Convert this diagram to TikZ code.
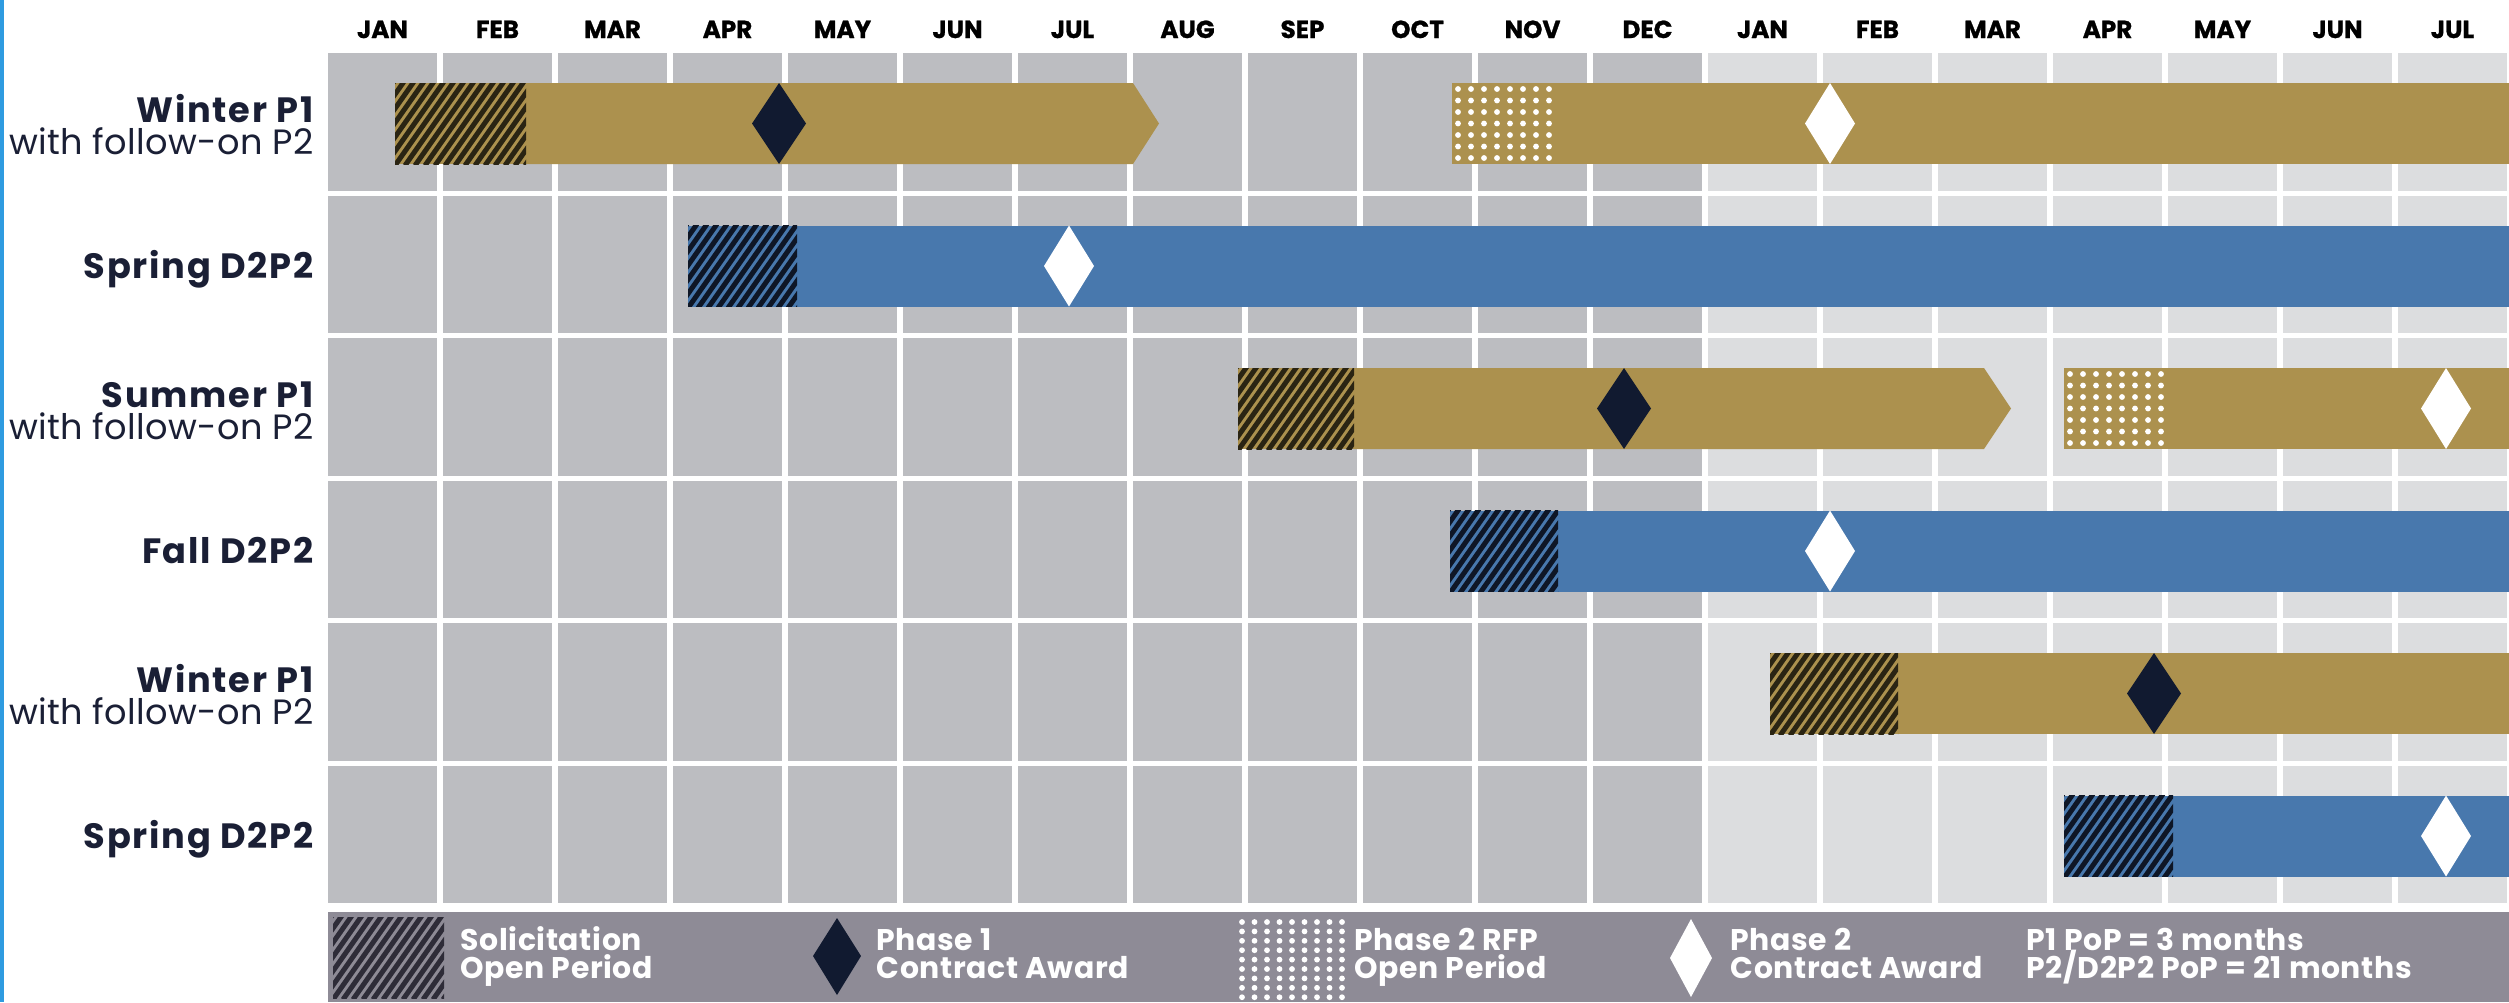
\documentclass[tikz,border=0pt]{standalone}
\usepackage{fontspec}
\setmainfont{Poppins}
\definecolor{cellD}{HTML}{BCBDC1}
\definecolor{cellL}{HTML}{DCDDDF}
\definecolor{gold}{HTML}{AC914E}
\definecolor{barblue}{HTML}{4878AD}
\definecolor{navy}{HTML}{111A30}
\definecolor{legbg}{HTML}{8E8B96}
\definecolor{edgeblue}{HTML}{2E9BE0}
\definecolor{goldstripe}{HTML}{2A2413}
\definecolor{bluestripe}{HTML}{0E1626}
\definecolor{legstripe}{HTML}{2E2C38}
\definecolor{labtext}{HTML}{1A1F35}
\newcommand\hatchbox[5]{%
  \begin{scope}
    \clip (#1,#3-40.5) rectangle (#2,#3+40.5);
    \fill[#4] (#1,#3-40.5) rectangle (#2,#3+40.5);
    \foreach \i in {-10,...,18} \draw[#5, line width=0.05cm] ({#1+\i*10},#3+42) -- ++(59,-84);
  \end{scope}}
\newcommand\dotbox[6]{%
  \foreach \i in {0,...,#3} \foreach \j in {0,...,#4}
    \fill[white] ({#1+\i*#5},{#2+\j*#6}) circle [radius=2.9];}
\newcommand\dia[4]{% cx, cy, halfwidth, color
  \fill[#4] (#1,#2-40.5) -- (#1+#3,#2) -- (#1,#2+40.5) -- (#1-#3,#2) -- cycle;}
\tikzset{
  rowlab/.style={anchor=base east, inner sep=0pt, text=labtext, font=\fontsize{10}{12}\selectfont\bfseries\addfontfeature{LetterSpace=5}},
  rowsub/.style={anchor=base east, inner sep=0pt, text=labtext, font=\fontsize{10}{12}\selectfont\addfontfeature{LetterSpace=1}},
  month/.style={anchor=base, inner sep=0pt, text=black, font=\fontsize{7}{8}\selectfont\bfseries\addfontfeature{FakeBold=1}},
  legtxt/.style={anchor=base west, inner sep=0pt, text=white, font=\fontsize{8.5}{10}\selectfont\bfseries\addfontfeature{LetterSpace=2}},
}
\begin{document}
\begin{tikzpicture}[x=0.01cm,y=-0.01cm]
\useasboundingbox (0,0) rectangle (2509,1002);
\fill[white] (0,0) rectangle (2509,1002);
\fill[edgeblue] (0,0) rectangle (4,1002);
% grid cells
\foreach \c in {0,...,11} \foreach \r in {0,...,5}
  \fill[cellD] ({328+115*\c},{53+142.5*\r}) rectangle ++(109,137.5);
\foreach \c in {12,...,18} \foreach \r in {0,...,5}
  \fill[cellL] ({328+115*\c},{53+142.5*\r}) rectangle ++(109,137.5);
% months
\foreach \m [count=\k from 0] in {JAN,FEB,MAR,APR,MAY,JUN,JUL,AUG,SEP,OCT,NOV,DEC,JAN,FEB,MAR,APR,MAY,JUN,JUL}
  \node[month] (m\k) at ({382.5+115*\k},38) {\m};
% row 0 : Winter P1 (yc 123.5)
\fill[gold] (526,83) -- (1133,83) -- (1159,123.5) -- (1133,164) -- (526,164) -- cycle;
\hatchbox{395}{526}{123.5}{gold}{goldstripe}
\dia{779}{123.5}{27}{navy}
\fill[gold] (1452,83) rectangle (2509,164);
\dotbox{1458}{89}{7}{6}{13}{11.5}
\dia{1830}{123.5}{25}{white}
% row 1 : Spring D2P2 (yc 266)
\fill[barblue] (797,225.5) rectangle (2509,306.5);
\hatchbox{688}{797}{266}{barblue}{bluestripe}
\dia{1069}{266}{25}{white}
% row 2 : Summer P1 (yc 408.5)
\fill[gold] (1354,368) -- (1984,368) -- (2011,408.5) -- (1984,449) -- (1354,449) -- cycle;
\hatchbox{1238}{1354}{408.5}{gold}{goldstripe}
\dia{1624}{408.5}{27}{navy}
\fill[gold] (2064,368) rectangle (2509,449);
\dotbox{2070}{374}{7}{6}{13}{11.5}
\dia{2446}{408.5}{25}{white}
% row 3 : Fall D2P2 (yc 551)
\fill[barblue] (1558,510.5) rectangle (2509,591.5);
\hatchbox{1450}{1558}{551}{barblue}{bluestripe}
\dia{1830}{551}{25}{white}
% row 4 : Winter P1 (yc 693.5)
\fill[gold] (1898,653) rectangle (2509,734);
\hatchbox{1770}{1898}{693.5}{gold}{goldstripe}
\dia{2154}{693.5}{27}{navy}
% row 5 : Spring D2P2 (yc 836)
\fill[barblue] (2173,795.5) rectangle (2509,876.5);
\hatchbox{2064}{2173}{836}{barblue}{bluestripe}
\dia{2446}{836}{25}{white}
% row labels
\node[rowlab] (l0a) at (314,122) {Winter P1};
\node[rowsub] (l0b) at (314,154) {with follow-on P2};
\node[rowlab] (l1) at (314,278) {Spring D2P2};
\node[rowlab] (l2a) at (314,407) {Summer P1};
\node[rowsub] (l2b) at (314,439) {with follow-on P2};
\node[rowlab] (l3) at (314,563) {Fall D2P2};
\node[rowlab] (l4a) at (314,692) {Winter P1};
\node[rowsub] (l4b) at (314,724) {with follow-on P2};
\node[rowlab] (l5) at (314,848) {Spring D2P2};
% legend
\fill[legbg] (328,912) rectangle (2509,1002);
\hatchbox{333}{444}{957.5}{legbg}{legstripe}
\node[legtxt] (t1a) at (460,950) {Solicitation};
\node[legtxt] (t1b) at (460,978) {Open Period};
\fill[navy] (837,918) -- (861,956) -- (837,995) -- (813,956) -- cycle;
\node[legtxt] (t2a) at (876,950) {Phase 1};
\node[legtxt] (t2b) at (876,978) {Contract Award};
\dotbox{1242}{922}{8}{8}{12.5}{9.4}
\node[legtxt] (t3a) at (1354,950) {Phase 2 RFP};
\node[legtxt] (t3b) at (1354,978) {Open Period};
\fill[white] (1691,919) -- (1712,958) -- (1691,997) -- (1670,958) -- cycle;
\node[legtxt] (t4a) at (1730,950) {Phase 2};
\node[legtxt] (t4b) at (1730,978) {Contract Award};
\node[legtxt] (t5a) at (2026,950) {P1 PoP = 3 months};
\node[legtxt] (t5b) at (2026,978) {P2/D2P2 PoP = 21 months};
\end{tikzpicture}
\end{document}
